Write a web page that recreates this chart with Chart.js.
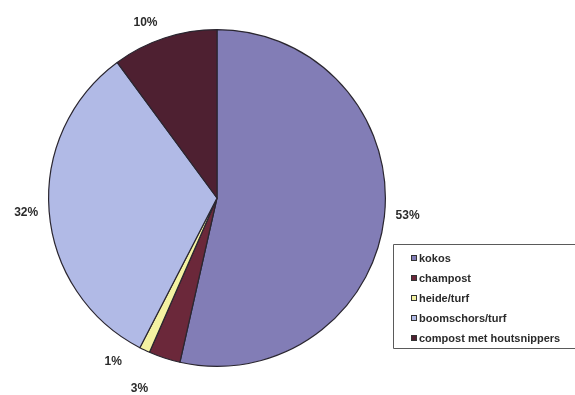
<!DOCTYPE html>
<html>
<head>
<meta charset="utf-8">
<script src="https://cdn.jsdelivr.net/npm/chart.js@4/dist/chart.umd.min.js"></script>
<style>
  html, body { margin: 0; padding: 0; background: #ffffff; }
  #wrap { position: relative; width: 575px; height: 395px; }
</style>
</head>
<body>
<div id="wrap"><canvas id="pieChart" width="575" height="395"></canvas></div>
<script>
// Substrate shares (%)
const categories = ['kokos', 'champost', 'heide/turf', 'boomschors/turf', 'compost met houtsnippers'];
const shares = [53, 3, 1, 32, 10];
const sliceColors = ['#827db6', '#6b283a', '#f4f2a2', '#b1bae6', '#4e2031'];

// some labels sit off the slice middle (degrees, pixels)
const labelNudge = {
    0: { angle: -1, dist: 0 },
    1: { angle: 4, dist: 14 },
    2: { angle: 7, dist: 2 },
    4: { angle: -4, dist: -2 }
};

const pieLabels = {
    id: 'pieLabels',
    afterDatasetsDraw(chart) {
        const ctx = chart.ctx;
        const meta = chart.getDatasetMeta(0);
        ctx.save();
        ctx.font = 'bold 12px "Liberation Sans", Arial, sans-serif';
        ctx.fillStyle = '#2b2b2b';
        ctx.textAlign = 'center';
        ctx.textBaseline = 'middle';
        meta.data.forEach((arc, i) => {
            const p = arc.getProps(['x', 'y', 'startAngle', 'endAngle', 'outerRadius'], true);
            const nudge = labelNudge[i] || { angle: 0, dist: 0 };
            const mid = (p.startAngle + p.endAngle) / 2 + nudge.angle * Math.PI / 180;
            const r = p.outerRadius + 23 + nudge.dist;
            ctx.fillText(shares[i] + '%', p.x + Math.cos(mid) * r, p.y + Math.sin(mid) * r);
        });
        ctx.restore();
    }
};

const boxLegend = {
    id: 'boxLegend',
    afterDraw(chart) {
        const ctx = chart.ctx;
        const left = 393.5, top = 244.5, bottom = 348.5;
        ctx.save();
        ctx.strokeStyle = '#5a5a5a';
        ctx.lineWidth = 1;
        ctx.beginPath();
        ctx.moveTo(590, top);
        ctx.lineTo(left, top);
        ctx.lineTo(left, bottom);
        ctx.lineTo(590, bottom);
        ctx.stroke();

        ctx.font = 'bold 11px "Liberation Sans", Arial, sans-serif';
        ctx.textBaseline = 'middle';
        categories.forEach((name, i) => {
            const y = 258 + i * 20;
            ctx.fillStyle = sliceColors[i];
            ctx.fillRect(411, y - 3, 6, 6);
            ctx.strokeStyle = '#333333';
            ctx.strokeRect(411.5, y - 2.5, 5, 5);
            ctx.fillStyle = '#2b2b2b';
            ctx.fillText(name, 419, y + 0.5);
        });
        ctx.restore();
    }
};

const ctx = document.getElementById('pieChart').getContext('2d');
new Chart(ctx, {
    type: 'pie',
    data: {
        labels: categories,
        datasets: [{
            data: shares,
            backgroundColor: sliceColors,
            borderColor: '#2a2630',
            borderWidth: 1.2
        }]
    },
    options: {
        responsive: false,
        animation: false,
        layout: { padding: { left: 48, right: 189, top: 29, bottom: 28 } },
        plugins: {
            legend: { display: false },
            tooltip: { enabled: false }
        }
    },
    plugins: [pieLabels, boxLegend]
});
</script>
</body>
</html>
